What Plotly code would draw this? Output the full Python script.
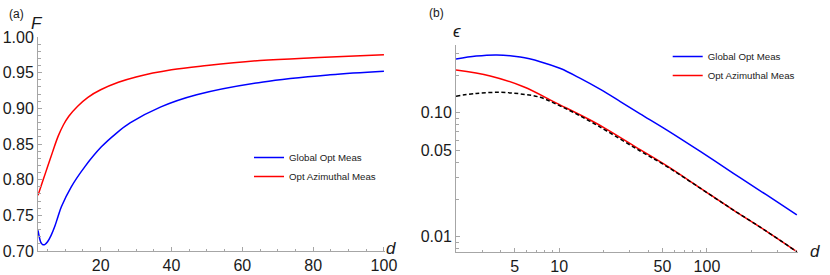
import plotly.graph_objects as go

# ---------------- data ----------------
# Panel (a): fidelity F vs d
d_a_global = [2.3, 2.7, 3.1, 3.6, 4.2, 5.0, 6.0, 7.0, 8.0, 8.9, 11.7, 15.5, 20.2, 24.4, 28.3, 37.0, 47.1, 65.9, 84.8, 100]
F_global = [0.729, 0.719, 0.712, 0.709, 0.709, 0.713, 0.722, 0.734, 0.749, 0.762, 0.790, 0.818, 0.846, 0.865, 0.8795, 0.902, 0.919, 0.937, 0.947, 0.952]

d_a_azim = [2.3, 3.5, 5.0, 6.5, 8.0, 9.5, 11.0, 13.5, 16.4, 20.0, 25.0, 30.0, 40.0, 50.0, 65.0, 80.0, 100]
F_azim = [0.778, 0.796, 0.818, 0.840, 0.861, 0.877, 0.889, 0.903, 0.9155, 0.926, 0.9365, 0.944, 0.954, 0.960, 0.967, 0.971, 0.975]

# Panel (b): epsilon vs d (log-log)
d_b_global = [2.0, 2.74, 3.78, 5.44, 7.43, 10.2, 13.9, 19.0, 25.9, 35.3, 53.6, 90.1, 151, 252, 406]
eps_global = [0.271, 0.286, 0.292, 0.281, 0.258, 0.227, 0.189, 0.154, 0.123, 0.098, 0.0724, 0.0487, 0.0324, 0.0218, 0.0150]

d_b_azim = [2.0, 3.41, 5.73, 9.65, 16.2, 21.0, 35.3, 53.6, 90.1, 151, 252, 406]
eps_azim = [0.221, 0.198, 0.162, 0.119, 0.0873, 0.0735, 0.0504, 0.0372, 0.0247, 0.0164, 0.0111, 0.00757]

d_b_bound = [2.0, 2.74, 3.98, 5.44, 7.43, 9.65, 12.5, 16.2, 21.0, 35.3, 53.6, 90.1, 151, 252, 406]
eps_bound = [0.136, 0.143, 0.146, 0.142, 0.133, 0.1165, 0.1004, 0.0850, 0.0712, 0.0491, 0.0368, 0.0246, 0.0164, 0.0111, 0.00756]

series_names = ["Global Opt Meas", "Opt Azimuthal Meas"]

# tick definitions
a_xticks = [20, 40, 60, 80, 100]
a_xminor = [5, 10, 15, 25, 30, 35, 45, 50, 55, 65, 70, 75, 85, 90, 95]
a_yticks = [0.70, 0.75, 0.80, 0.85, 0.90, 0.95, 1.00]
a_yminor = [round(0.70 + 0.01 * i, 2) for i in range(31)]
b_xticks = [5, 10, 50, 100]
b_xtext = ["5", "10", "50", "100"]
b_xminor = [2, 3, 4, 6, 7, 8, 9, 20, 30, 40, 60, 70, 80, 90, 200, 300, 400]
b_yticks = [0.01, 0.05, 0.10]
b_ytext = ["0.01", "0.05", "0.10"]
b_yminor = [0.008, 0.009, 0.02, 0.03, 0.04, 0.06, 0.07, 0.08, 0.09, 0.2, 0.3]

# ---------------- figure ----------------
W, H = 830, 275
def px(x):
    return x / W
def py(y):
    return 1 - y / H

BLUE = "#0000ff"
RED = "#ff0000"
AX = "#a6a6a6"
TXT = "#1a1a1a"
FONT = "Liberation Sans, Arial, sans-serif"

fig = go.Figure()
fig.add_trace(go.Scatter(x=d_a_global, y=F_global, mode="lines", name=series_names[0],
                         line=dict(color=BLUE, width=1.5, shape="spline"),
                         xaxis="x", yaxis="y", legend="legend"))
fig.add_trace(go.Scatter(x=d_a_azim, y=F_azim, mode="lines", name=series_names[1],
                         line=dict(color=RED, width=1.5, shape="spline"),
                         xaxis="x", yaxis="y", legend="legend"))
fig.add_trace(go.Scatter(x=d_b_global, y=eps_global, mode="lines", name=series_names[0],
                         line=dict(color=BLUE, width=1.5, shape="spline"),
                         xaxis="x2", yaxis="y2", legend="legend2"))
fig.add_trace(go.Scatter(x=d_b_azim, y=eps_azim, mode="lines", name=series_names[1],
                         line=dict(color=RED, width=1.5, shape="spline"),
                         xaxis="x2", yaxis="y2", legend="legend2"))
fig.add_trace(go.Scatter(x=d_b_bound, y=eps_bound, mode="lines", name="bound", showlegend=False,
                         line=dict(color="black", width=1.5, dash="4px,2.5px", shape="spline"),
                         xaxis="x2", yaxis="y2"))

common = dict(showline=True, linecolor=AX, linewidth=1, ticks="inside", ticklen=4,
              tickcolor=AX, tickwidth=1, showgrid=False, zeroline=False, mirror=False,
              automargin=False,
              tickfont=dict(family=FONT, size=16, color=TXT))

def minor(vals):
    return dict(tickmode="array", tickvals=vals, ticks="inside", ticklen=2.5,
                tickcolor=AX, tickwidth=1, showgrid=False)

fig.update_layout(
    template="none",
    width=W, height=H, autosize=False,
    margin=dict(l=0, r=0, t=0, b=0, pad=0),
    paper_bgcolor="white", plot_bgcolor="white",
    font=dict(family=FONT, color=TXT),
    xaxis=dict(domain=[px(38), px(385)], range=[2.3, 100.3], anchor="y",
               tickmode="array", tickvals=a_xticks, minor=minor(a_xminor), **common),
    yaxis=dict(domain=[py(251), py(37)], range=[0.70, 1.00], anchor="x",
               tickmode="array", tickvals=a_yticks, tickformat=".2f",
               minor=minor(a_yminor), **common),
    xaxis2=dict(domain=[px(456), px(798)], type="log", range=[0.301, 2.6165], anchor="y2",
                tickmode="array", tickvals=b_xticks, ticktext=b_xtext,
                minor=minor(b_xminor), **common),
    yaxis2=dict(domain=[py(252), py(45)], type="log", range=[-2.1234, -0.454], anchor="x2",
                tickmode="array", tickvals=b_yticks, ticktext=b_ytext,
                minor=minor(b_yminor), **common),
    legend=dict(x=px(249), y=py(143), xanchor="left", yanchor="top",
                bgcolor="rgba(0,0,0,0)", borderwidth=0, itemwidth=30,
                font=dict(family=FONT, size=9.7, color="#222")),
    legend2=dict(x=px(667.7), y=py(42), xanchor="left", yanchor="top",
                 bgcolor="rgba(0,0,0,0)", borderwidth=0, itemwidth=30,
                 font=dict(family=FONT, size=9.7, color="#222")),
    showlegend=True,
)

ann = [
    ("(a)", 16.7, 14.0, 12, False),
    ("(b)", 436.7, 13.3, 12, False),
    ("F", 37.0, 23.8, 17, True),
    ("d", 391.0, 249.0, 17, True),
    ("\u03f5", 456.7, 31.7, 17, True),
    ("d", 815.0, 251.0, 17, True),
]
for text, x, y, size, ital in ann:
    fig.add_annotation(x=px(x), y=py(y), xref="paper", yref="paper",
                       text=f"<i>{text}</i>" if ital else text, showarrow=False,
                       xanchor="center", yanchor="middle",
                       font=dict(family=FONT, size=size, color=TXT))

fig.write_html("out.html",
               config={"displayModeBar": False},
               post_script="document.body.style.margin='0px';document.body.style.padding='0px';document.body.style.overflow='hidden';")
